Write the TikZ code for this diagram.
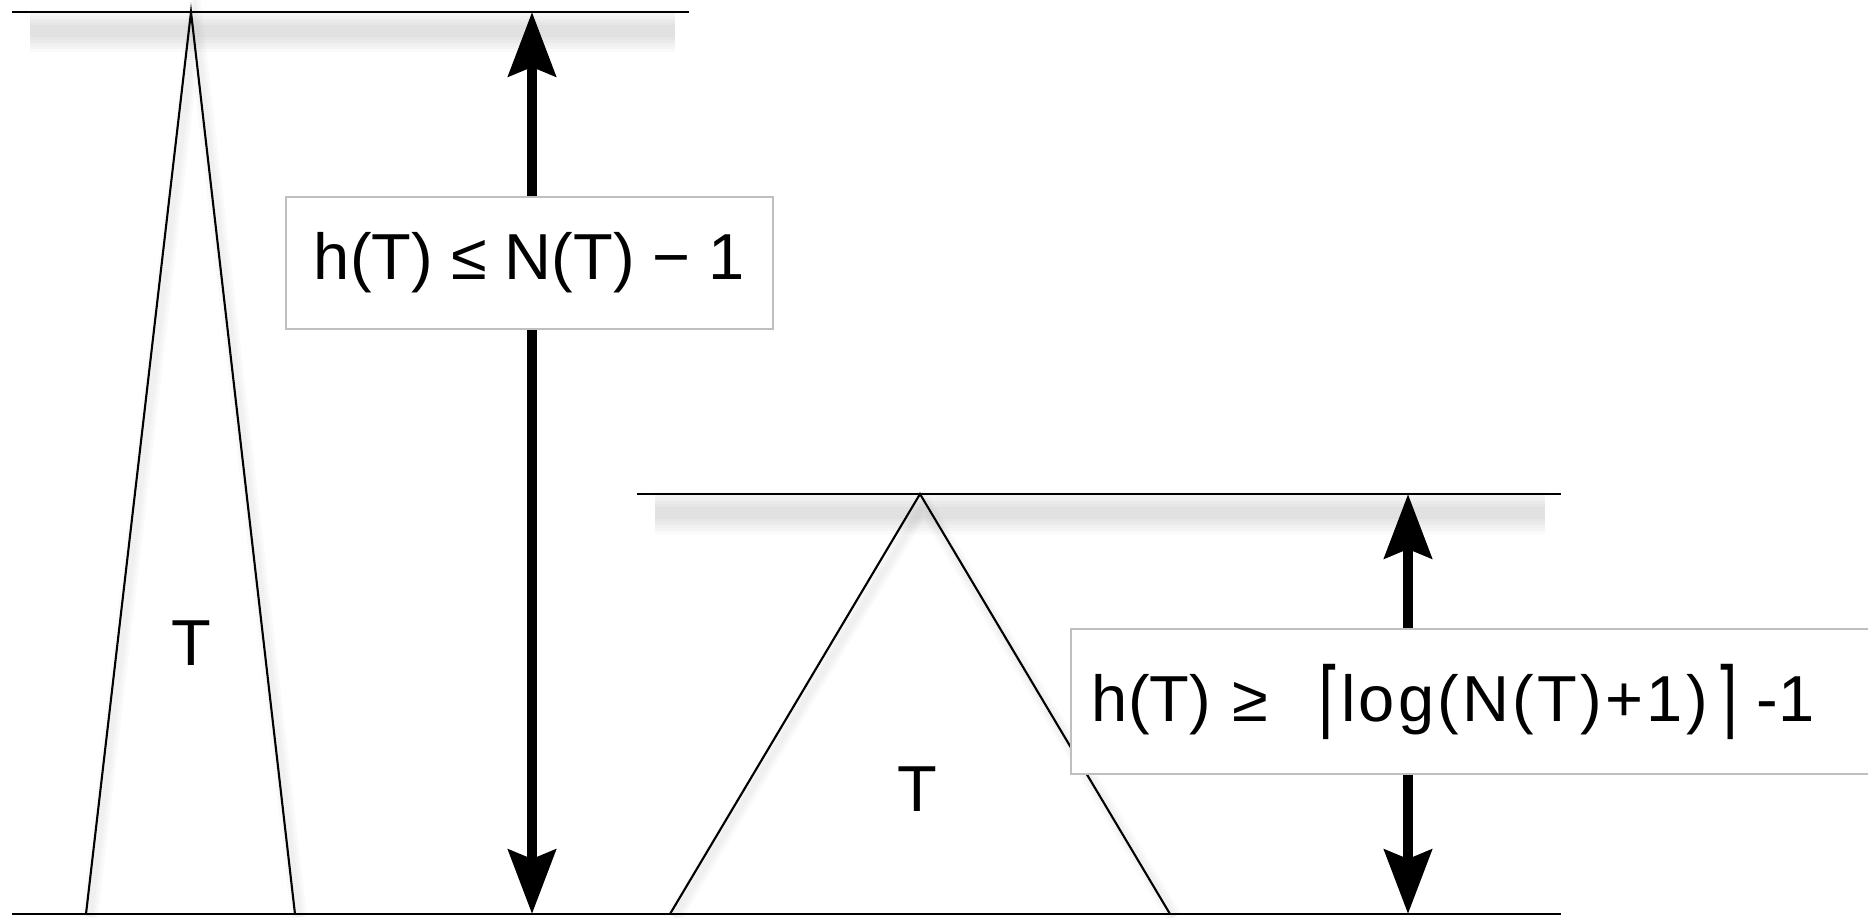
\documentclass[tikz,border=0pt]{standalone}
\usepackage{fontspec}
\usepackage{graphicx}
\setmainfont{Liberation Sans}
\newfontfamily\ceilfont{DejaVu Sans}
\newcommand{\lceilmark}{\raisebox{-0.1em}{\scalebox{0.9}[1.3]{\ceilfont ⌈}}}
\newcommand{\rceilmark}{\raisebox{-0.1em}{\scalebox{0.9}[1.3]{\ceilfont ⌉}}}
\usetikzlibrary{arrows.meta}
\tikzset{
	levelline/.style={line width=0.8pt},
	treeside/.style={line width=0.6pt},
	haze/.style={draw=black, draw opacity=0.02, line width=#1},
	boundlabel/.style={draw=black!25, line width=0.5pt, fill=white, inner xsep=0.21cm, inner ysep=0pt},
	heightarrow/.style={line width=3.1pt, {Stealth[length=0.64cm,width=0.47cm,inset=0.09cm]}-{Stealth[length=0.64cm,width=0.47cm,inset=0.09cm]}},
}
\begin{document}
\begin{tikzpicture}[every node/.style={font=\fontsize{18.5}{22}\selectfont}]
		\useasboundingbox (0,0) rectangle (18.68,9.17);
		% soft shadows under the lines
		\foreach \w in {0.42,0.36,0.30,0.24,0.18,0.12} {
			\draw[haze=\w cm] (0.30,8.86) -- (6.75,8.86);
			\draw[haze=\w cm] (6.55,4.04) -- (15.45,4.04);
		}
		\foreach \w in {0.16,0.11,0.06} {
			\draw[haze=\w cm] (0.90,0) -- (1.95,8.95) -- (2.99,0);
			\draw[haze=\w cm] (6.74,0) -- (9.24,4.13) -- (11.74,0);
		}
		\coordinate (apexA) at (1.91,9.05);
		\coordinate (apexB) at (9.20,4.23);
		\coordinate (peakA) at (5.32,9.05);
		\coordinate (baseA) at (5.32,0.03);
		\coordinate (peakB) at (14.08,4.23);
		\coordinate (baseB) at (14.08,0.03);
		\draw[levelline] (0.12,9.05) -- (6.89,9.05);
		\draw[levelline] (6.37,4.23) -- (15.61,4.23);
		\draw[levelline] (0.12,0.03) -- (15.61,0.03);
		\draw[treeside] (0.86,0.03) -- (apexA) -- (2.95,0.03);
		\draw[treeside] (6.70,0.03) -- (apexB) -- (11.70,0.03);
		\node (tA) at (1.91,2.74) {T};
		\node (tB) at (9.17,1.28) {T};
		\draw[heightarrow] (baseA) -- (peakA);
		\draw[heightarrow] (baseB) -- (peakB);
		\node[boundlabel, minimum width=4.87cm, minimum height=1.32cm] (upper) at (5.295,6.54) {h(T) ≤ N(T) − 1};
		\node[boundlabel, text width=7.9cm, align=left, minimum height=1.45cm, anchor=west] (lower) at (10.70,2.155) {h(T) ≥\hspace{0.5cm}\lceilmark{\addfontfeature{LetterSpace=5}log(N(T)+1)}\hspace{0.08cm}\rceilmark\hspace{0.18cm}-1};
	\end{tikzpicture}
\end{document}
